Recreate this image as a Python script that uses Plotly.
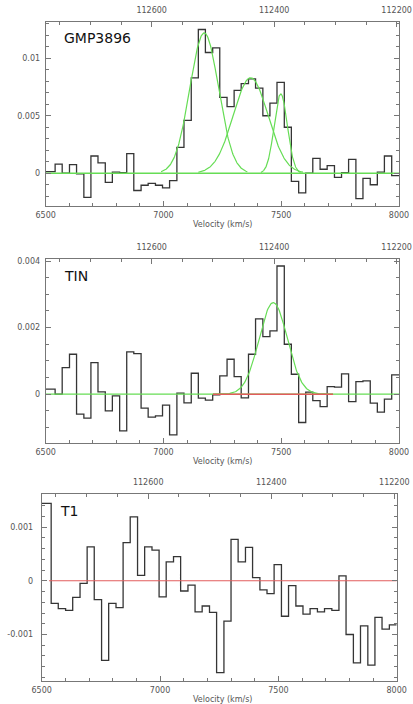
import math
import plotly.graph_objects as go

# ---------------- data ----------------
# channel edges (km/s), 49 channels
VEL_EDGES = [6500, 6540, 6570, 6601, 6631, 6662, 6692, 6722, 6753, 6783, 6814,
             6844, 6874, 6905, 6935, 6966, 6996, 7026, 7057, 7087, 7118, 7148,
             7178, 7209, 7239, 7270, 7300, 7330, 7361, 7391, 7422, 7452, 7482,
             7513, 7543, 7574, 7604, 7634, 7665, 7695, 7726, 7756, 7786, 7817,
             7847, 7878, 7908, 7938, 7969, 8000]

GMP3896_FLUX = [0.00015, 0.0008, 0.0, 0.00075, -0.00005, -0.0021, 0.0015, 0.0009,
                -0.0008, 0.0001, 0.00005, 0.0017, -0.0015, -0.00104, -0.00087,
                -0.00104, -0.00127, -0.00064, 0.00225, 0.0046, 0.0083, 0.0125,
                0.0105, 0.0109, 0.0066, 0.0058, 0.0072, 0.0078, 0.0082, 0.0074,
                0.005, 0.0061, 0.0079, 0.004, -0.0007, -0.0017, 0.0, 0.0013,
                0.00035, 0.00067, -0.00035, 0.00006, 0.0012, -0.0022, -0.00044,
                -0.001, 0.0001, 0.0015, -0.0002]

TIN_FLUX = [0.00015, 0.0, 0.0008, 0.0012, -0.0006, -0.00072, 0.00095, 0.00007,
            -0.0005, -0.00005, -0.0011, 0.00127, 0.00122, -0.00042, -0.00069,
            -0.00065, -0.00033, -0.00122, 0.00003, -0.00026, 0.00063, -0.00012,
            -0.00018, -0.00002, 0.00055, 0.00105, 0.00053, -0.00011, 0.0012,
            0.00226, 0.00173, 0.0019, 0.00385, 0.0015, 0.0006, -0.00085, 0.00006,
            -0.00019, -0.00037, 0.00023, 0.00021, 0.00061, -0.00022, 0.00038,
            0.0004, -0.00027, -0.00054, -0.00015, 0.00058]

T1_FLUX = [0.00144, -0.00042, -0.00052, -0.00055, -0.00031, -0.00005, 0.00063,
           -0.00035, -0.00148, -0.00042, -0.0005, 0.00071, 0.00119, 0.0001,
           0.00063, 0.00057, -0.0003, 0.00035, 0.00045, -0.00019, -0.00008,
           -0.00058, -0.00047, -0.00059, -0.00171, -0.00075, 0.00077, 0.00035,
           0.00062, 0.00006, -0.00017, -0.00024, 0.0003, -0.00066, -0.00009,
           -0.00047, -0.00062, -0.00052, -0.00058, -0.00052, -0.00055, 0.00009,
           -0.001, -0.00153, -0.00084, -0.00157, -0.00068, -0.0009, -0.00082]

# Gaussian fit components: amplitude, centre (km/s), sigma (km/s)
GMP3896_AMP = [0.0122, 0.0083, 0.0069]
GMP3896_CEN = [7173, 7370, 7498]
GMP3896_SIG = [61, 74, 28]
TIN_AMP = [0.00275]
TIN_CEN = [7466]
TIN_SIG = [60]
TIN_FIT_RANGE = [7210, 7720]
T1_BASE_RANGE = [6531, 8000]

PANEL_NAMES = ["GMP3896", "TIN", "T1"]
VEL_TICKS = [6500, 7000, 7500, 8000]
VEL_TICKTEXT = ["6500", "7000", "7500", "8000"]
FREQ_TICKS = [112600, 112400, 112200]
FREQ_TICKTEXT = ["112600", "112400", "112200"]
FREQ_REF = (6950.0, 112600.0)   # velocity, frequency
MHZ_PER_KMS = -200.0 / 520.0

Y_TICKS = [[0, 0.005, 0.01], [0, 0.002, 0.004], [-0.001, 0, 0.001]]
Y_TICKTEXT = [["0", "0.005", "0.01"], ["0", "0.002", "0.004"], ["-0.001", "0", "0.001"]]
Y_MINOR = [0.001, 0.0005, 0.0002]
Y_RANGES = [[-0.00282, 0.01318], [-0.00145, 0.00406], [-0.00186, 0.001615]]

# ---------------- layout geometry ----------------
W, H = 413, 704
BOXES = [(45.7, 399.0, 21.7, 205.7),
         (45.7, 399.0, 259.0, 442.5),
         (41.7, 396.7, 494.0, 680.7)]

HIST_COL = "#353535"
GREEN = "#66dd55"
RED = "#e25c5c"
AXCOL = "#777777"
TXTCOL = "#555555"
FONT = "DejaVu Sans"


def freq(v):
    return FREQ_REF[1] + (v - FREQ_REF[0]) * MHZ_PER_KMS


def gauss_curve(a, c, s, lo=None, hi=None, n=200):
    lo = c - 3 * s if lo is None else lo
    hi = c + 3 * s if hi is None else hi
    xs = [lo + (hi - lo) * i / (n - 1) for i in range(n)]
    ys = [a * math.exp(-0.5 * ((x - c) / s) ** 2) for x in xs]
    return xs, ys


fig = go.Figure()
fluxes = [GMP3896_FLUX, TIN_FLUX, T1_FLUX]

for p in range(3):
    xa = "x" if p == 0 else f"x{p + 1}"
    ya = "y" if p == 0 else f"y{p + 1}"
    fl = fluxes[p]
    # histogram
    fig.add_trace(go.Scatter(x=VEL_EDGES, y=fl + [fl[-1]], mode="lines",
                             line=dict(color=HIST_COL, width=1.3, shape="hv"),
                             xaxis=xa, yaxis=ya, hoverinfo="skip", showlegend=False))
    if p == 0:
        fig.add_trace(go.Scatter(x=[VEL_EDGES[0], VEL_EDGES[-1]], y=[0, 0], mode="lines",
                                 line=dict(color=GREEN, width=1.3), xaxis=xa, yaxis=ya,
                                 hoverinfo="skip", showlegend=False))
        for a, c, s in zip(GMP3896_AMP, GMP3896_CEN, GMP3896_SIG):
            gx, gy = gauss_curve(a, c, s)
            fig.add_trace(go.Scatter(x=gx, y=gy, mode="lines",
                                     line=dict(color=GREEN, width=1.2), xaxis=xa, yaxis=ya,
                                     hoverinfo="skip", showlegend=False))
    elif p == 1:
        fig.add_trace(go.Scatter(x=[VEL_EDGES[0], VEL_EDGES[-1]], y=[0, 0], mode="lines",
                                 line=dict(color=GREEN, width=1.3), xaxis=xa, yaxis=ya,
                                 hoverinfo="skip", showlegend=False))
        for a, c, s in zip(TIN_AMP, TIN_CEN, TIN_SIG):
            gx, gy = gauss_curve(a, c, s, TIN_FIT_RANGE[0], TIN_FIT_RANGE[1])
            fig.add_trace(go.Scatter(x=gx, y=gy, mode="lines",
                                     line=dict(color=GREEN, width=1.2), xaxis=xa, yaxis=ya,
                                     hoverinfo="skip", showlegend=False))
        fig.add_trace(go.Scatter(x=TIN_FIT_RANGE, y=[0, 0], mode="lines",
                                 line=dict(color=RED, width=1.5), xaxis=xa, yaxis=ya,
                                 hoverinfo="skip", showlegend=False))
    else:
        fig.add_trace(go.Scatter(x=T1_BASE_RANGE, y=[0, 0], mode="lines",
                                 line=dict(color=RED, width=1.2), xaxis=xa, yaxis=ya,
                                 hoverinfo="skip", showlegend=False))
    # invisible trace for the top frequency axis
    fig.add_trace(go.Scatter(x=[freq(VEL_EDGES[0])], y=[0], mode="markers",
                             marker=dict(opacity=0), xaxis=f"x{p + 4}", yaxis=ya,
                             hoverinfo="skip", showlegend=False))

layout = dict(width=W, height=H, margin=dict(l=0, r=0, t=0, b=0, autoexpand=False),
              paper_bgcolor="white", plot_bgcolor="white", showlegend=False,
              font=dict(family=FONT, size=8, color=TXTCOL))

annotations = []
for p, (x0, x1, y0, y1) in enumerate(BOXES):
    dx = [x0 / W, x1 / W]
    dy = [1 - y1 / H, 1 - y0 / H]
    sfx = "" if p == 0 else str(p + 1)
    ysfx = "y" if p == 0 else f"y{p + 1}"
    xsfx = "x" if p == 0 else f"x{p + 1}"
    common = dict(showline=True, linecolor=AXCOL, linewidth=1, showgrid=False,
                  zeroline=False, ticks="inside", tickcolor=AXCOL, ticklen=5,
                  tickwidth=1, tickfont=dict(family=FONT, size=8, color=TXTCOL))
    layout[f"xaxis{sfx}"] = dict(domain=dx, anchor=ysfx, range=[6500, 8000],
                                 tickvals=VEL_TICKS, ticktext=VEL_TICKTEXT,
                                 minor=dict(dtick=100, ticks="inside", ticklen=3,
                                            tickcolor=AXCOL, showgrid=False),
                                 ticklabelstandoff=2, **common)
    layout[f"xaxis{p + 4}"] = dict(domain=dx, anchor=ysfx, overlaying=xsfx, side="top",
                                   range=[freq(6500), freq(8000)],
                                   tickvals=FREQ_TICKS, ticktext=FREQ_TICKTEXT,
                                   minor=dict(dtick=50, ticks="inside", ticklen=3,
                                              tickcolor=AXCOL, showgrid=False),
                                   ticklabelstandoff=5, **common)
    layout[f"yaxis{sfx}"] = dict(domain=dy, anchor=xsfx, range=Y_RANGES[p],
                                 tickvals=Y_TICKS[p], ticktext=Y_TICKTEXT[p],
                                 mirror="ticks",
                                 minor=dict(dtick=Y_MINOR[p], ticks="inside", ticklen=3,
                                            tickcolor=AXCOL, showgrid=False),
                                 ticklabelstandoff=3 if p < 2 else 6, **common)
    annotations.append(dict(text=PANEL_NAMES[p], xref="paper", yref="paper",
                            x=(x0 + 16) / W, y=1 - (y0 + 16.5) / H,
                            xanchor="left", yanchor="middle", showarrow=False,
                            font=dict(family=FONT, size=14, color="#111111")))
    annotations.append(dict(text="Velocity (km/s)", xref="paper", yref="paper",
                            x=222.5 / W, y=1 - (y1 + 18.5) / H,
                            xanchor="center", yanchor="middle", showarrow=False,
                            font=dict(family=FONT, size=8, color=TXTCOL)))
layout["annotations"] = annotations
fig.update_layout(**layout)
fig.write_html("out.html")
